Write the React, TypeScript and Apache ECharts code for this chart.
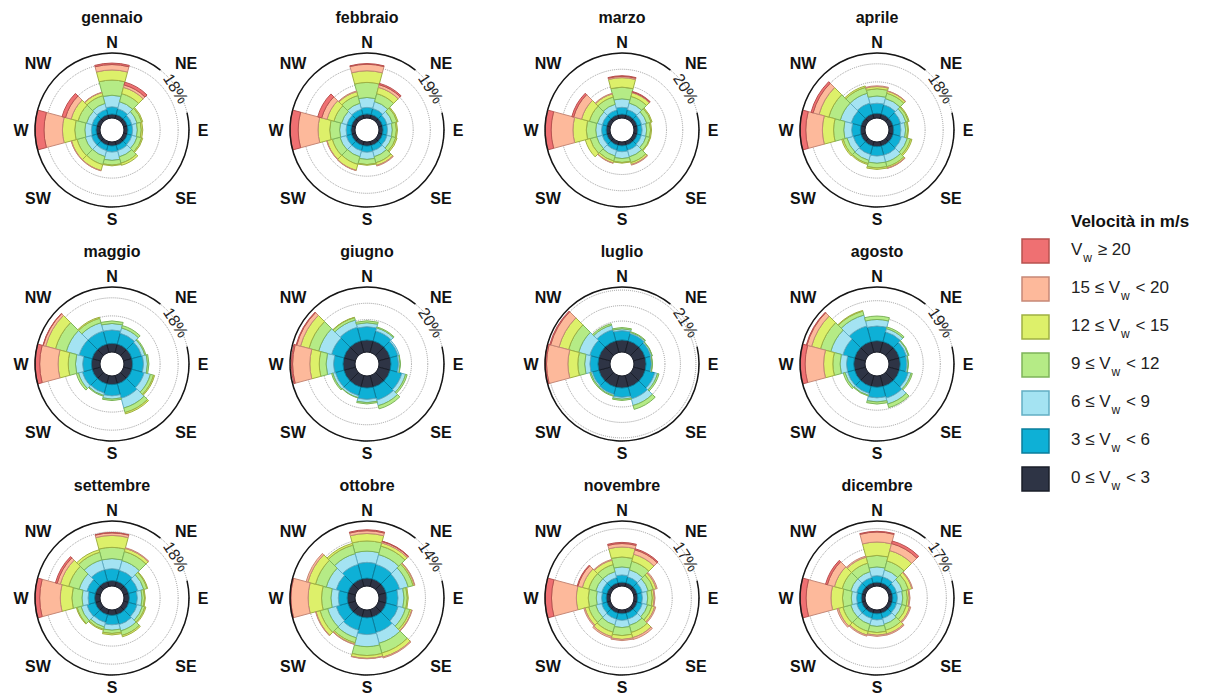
import React, { useEffect, useRef } from "react";
import * as echarts from "echarts";

// ---------------- DATA ----------------
const months = [
  "gennaio", "febbraio", "marzo", "aprile",
  "maggio", "giugno", "luglio", "agosto",
  "settembre", "ottobre", "novembre", "dicembre",
];
// 12 sectors of 30°, clockwise from North
const directions = ["0°", "30°", "60°", "90°", "120°", "150°", "180°", "210°", "240°", "270°", "300°", "330°"];
const maxima = [18, 19, 20, 18, 18, 20, 21, 19, 18, 14, 17, 17];
const gridStep = 5;
const speedClasses = ["0 ≤ Vw < 3", "3 ≤ Vw < 6", "6 ≤ Vw < 9", "9 ≤ Vw < 12", "12 ≤ Vw < 15", "15 ≤ Vw < 20", "Vw ≥ 20"];
const compassLabels = ["N", "NE", "E", "SE", "S", "SW", "W", "NW"];

// frequencies (%) per direction (rows) and speed class (columns, low -> high)
const gennaio = [
  [1.1, 2.0, 3.2, 4.2, 2.8, 1.5, 0.4],
  [1.1, 1.7, 2.0, 2.3, 1.8, 0.7, 0.8],
  [1.1, 1.3, 1.5, 1.3, 0.3, 0, 0],
  [1.1, 1.3, 1.3, 1.1, 0.4, 0, 0],
  [1.1, 1.3, 1.5, 1.3, 0.3, 0, 0],
  [1.1, 1.5, 1.8, 1.8, 0.6, 0, 0],
  [1.1, 1.7, 2.3, 1.3, 0.2, 0, 0],
  [1.1, 1.5, 1.7, 2.3, 1.7, 0.1, 0],
  [1.1, 1.5, 1.8, 2.3, 1.6, 0.1, 0],
  [1.1, 1.3, 1.8, 2.8, 3.4, 5.1, 2.5],
  [1.1, 1.3, 1.6, 2.4, 2.0, 1.6, 1.0],
  [1.1, 1.5, 1.7, 2.2, 0.9, 0.1, 0],
];
const febbraio = [
  [1.2, 1.9, 2.9, 4.4, 3.4, 1.9, 0.2],
  [1.2, 1.8, 2.1, 2.4, 1.9, 0.8, 0.4],
  [1.2, 1.4, 1.6, 1.4, 0.3, 0, 0],
  [1.2, 1.3, 1.4, 1.2, 0.3, 0, 0],
  [1.2, 1.4, 1.4, 1.2, 0.4, 0, 0],
  [1.2, 1.6, 1.8, 1.8, 0.8, 0.2, 0],
  [1.2, 1.8, 2.1, 1.5, 0.2, 0, 0],
  [1.2, 1.6, 1.8, 2.3, 1.8, 0.1, 0],
  [1.2, 1.6, 1.9, 2.3, 1.6, 0.1, 0],
  [1.2, 1.4, 1.9, 2.9, 3.4, 5.8, 2.4],
  [1.2, 1.4, 1.6, 2.3, 2.1, 1.6, 1.2],
  [1.2, 1.6, 1.8, 2.3, 1.2, 0.2, 0],
];
const marzo = [
  [1.2, 2.1, 2.6, 3.6, 2.9, 0.4, 0.2],
  [1.2, 1.6, 2.1, 2.1, 1.2, 0.2, 0.2],
  [1.2, 1.4, 1.6, 1.4, 0.3, 0, 0],
  [1.2, 1.3, 1.4, 1.2, 0.3, 0, 0],
  [1.2, 1.3, 1.5, 1.2, 0.2, 0, 0],
  [1.2, 1.6, 2.1, 1.8, 0.6, 0.2, 0],
  [1.2, 1.8, 2.1, 1.2, 0.2, 0, 0],
  [1.2, 1.6, 1.8, 1.6, 0.6, 0.1, 0],
  [1.2, 1.4, 1.8, 2.1, 1.5, 0, 0],
  [1.2, 1.4, 1.8, 2.9, 4.1, 6.7, 1.8],
  [1.2, 1.4, 1.6, 2.5, 2.5, 2.5, 0.6],
  [1.2, 1.5, 1.8, 2.3, 1.0, 0.2, 0],
];
const aprile = [
  [1.3, 2.8, 2.0, 2.0, 0.6, 0.2, 0],
  [1.3, 2.6, 1.8, 1.5, 0.6, 0.1, 0],
  [1.3, 2.2, 1.5, 0.7, 0.2, 0, 0],
  [1.3, 2.0, 1.3, 0.6, 0.2, 0, 0],
  [1.3, 2.4, 1.7, 0.9, 0.4, 0, 0],
  [1.3, 2.6, 2.0, 1.3, 0.4, 0.1, 0],
  [1.3, 2.6, 2.0, 1.3, 0.4, 0, 0],
  [1.3, 2.4, 1.7, 0.9, 0.3, 0, 0],
  [1.3, 2.2, 1.8, 1.1, 0.4, 0, 0],
  [1.3, 2.4, 2.2, 2.8, 3.1, 4.6, 1.6],
  [1.3, 2.8, 3.1, 3.3, 2.8, 1.7, 0.6],
  [1.3, 3.1, 2.8, 1.7, 0.4, 0, 0],
];
const maggio = [
  [2.4, 3.7, 1.8, 0.7, 0, 0, 0],
  [2.4, 3.1, 1.5, 0.7, 0, 0, 0],
  [2.4, 2.8, 0.9, 0.3, 0, 0, 0],
  [2.4, 3.0, 1.1, 0.4, 0, 0, 0],
  [2.4, 3.5, 1.8, 0.9, 0.3, 0, 0],
  [2.4, 4.1, 2.8, 1.3, 0.4, 0, 0],
  [2.4, 3.1, 0.9, 0.4, 0, 0, 0],
  [2.4, 2.6, 0.7, 0.2, 0, 0, 0],
  [2.4, 2.8, 1.1, 0.6, 0, 0, 0],
  [2.4, 2.4, 2.0, 2.0, 2.8, 5.1, 1.3],
  [2.4, 3.7, 3.7, 3.1, 2.8, 0.7, 0.1],
  [2.4, 3.7, 2.4, 1.3, 0.3, 0, 0],
];
const giugno = [
  [3.7, 4.1, 1.2, 0.6, 0, 0, 0],
  [3.7, 3.1, 1.0, 0.3, 0, 0, 0],
  [3.7, 2.5, 0.4, 0, 0, 0, 0],
  [3.7, 2.3, 0.5, 0.1, 0, 0, 0],
  [3.7, 3.7, 1.2, 0.5, 0, 0, 0],
  [3.7, 4.1, 1.8, 1.0, 0, 0, 0],
  [3.7, 3.5, 1.0, 0.4, 0, 0, 0],
  [3.7, 2.7, 0.6, 0.1, 0, 0, 0],
  [3.7, 2.7, 0.8, 0.4, 0, 0, 0],
  [3.7, 2.9, 2.3, 2.1, 2.9, 5.3, 0.4],
  [3.7, 3.9, 4.1, 3.1, 2.7, 1.2, 0.2],
  [3.7, 4.3, 2.3, 0.8, 0.1, 0, 0],
];
const luglio = [
  [3.9, 3.0, 0.6, 0.4, 0, 0, 0],
  [3.9, 2.4, 0.4, 0.2, 0, 0, 0],
  [3.9, 1.9, 0.4, 0.1, 0, 0, 0],
  [3.9, 1.7, 0.3, 0.1, 0, 0, 0],
  [3.9, 3.2, 0.9, 0.5, 0, 0, 0],
  [3.9, 3.9, 2.2, 1.3, 0, 0, 0],
  [3.9, 3.0, 0.6, 0.4, 0, 0, 0],
  [3.9, 2.4, 0.4, 0.2, 0, 0, 0],
  [3.9, 2.2, 0.5, 0.3, 0, 0, 0],
  [3.9, 2.6, 1.7, 2.2, 3.2, 6.9, 0.5],
  [3.9, 3.0, 3.7, 3.4, 3.2, 2.8, 0.3],
  [3.9, 3.7, 1.5, 0.5, 0, 0, 0],
];
const agosto = [
  [3.3, 4.3, 1.9, 1.0, 0, 0, 0],
  [3.3, 2.9, 1.0, 0.5, 0, 0, 0],
  [3.3, 2.1, 0.6, 0.2, 0, 0, 0],
  [3.3, 1.9, 0.4, 0.1, 0, 0, 0],
  [3.3, 2.7, 0.8, 0.4, 0, 0, 0],
  [3.3, 3.5, 1.8, 1.1, 0, 0, 0],
  [3.3, 3.1, 1.2, 0.6, 0, 0, 0],
  [3.3, 2.1, 0.6, 0.2, 0, 0, 0],
  [3.3, 2.1, 0.8, 0.5, 0, 0, 0],
  [3.3, 2.1, 1.9, 2.1, 2.7, 5.4, 1.4],
  [3.3, 3.5, 3.7, 3.1, 2.7, 1.4, 0.2],
  [3.3, 4.7, 3.3, 1.2, 0.2, 0, 0],
];
const settembre = [
  [1.5, 3.3, 2.8, 3.1, 3.3, 0.7, 0.1],
  [1.5, 3.1, 2.8, 2.6, 0.9, 0.2, 0],
  [1.5, 2.6, 1.7, 0.9, 0.2, 0, 0],
  [1.5, 2.2, 1.3, 0.7, 0.2, 0, 0],
  [1.5, 2.4, 1.5, 0.7, 0.3, 0, 0],
  [1.5, 2.8, 1.8, 1.3, 0.4, 0, 0],
  [1.5, 2.6, 1.5, 0.9, 0.4, 0, 0],
  [1.5, 2.2, 1.3, 0.7, 0.2, 0, 0],
  [1.5, 2.4, 1.7, 1.1, 0.2, 0, 0],
  [1.5, 1.8, 1.7, 2.8, 3.2, 5.7, 1.3],
  [1.5, 2.4, 2.2, 3.0, 2.4, 0.9, 0.5],
  [1.5, 3.3, 2.8, 2.2, 0.7, 0, 0],
];
const ottobre = [
  [1.7, 3.4, 2.4, 2.2, 1.6, 0.6, 0.2],
  [1.7, 3.2, 2.2, 1.9, 0.7, 0.3, 0.1],
  [1.7, 3.0, 1.9, 1.1, 0.3, 0.1, 0],
  [1.7, 2.4, 1.3, 0.7, 0.2, 0, 0],
  [1.7, 2.7, 1.6, 1.0, 0.4, 0.1, 0],
  [1.7, 3.4, 2.4, 2.2, 0.9, 0.2, 0],
  [1.7, 3.6, 2.6, 1.9, 0.6, 0.1, 0],
  [1.7, 2.9, 1.7, 1.1, 0.3, 0.1, 0],
  [1.7, 2.6, 1.9, 1.7, 0.9, 0.1, 0],
  [1.7, 1.9, 1.6, 2.0, 2.9, 3.7, 0.2],
  [1.7, 2.6, 2.2, 2.4, 1.7, 0.4, 0],
  [1.7, 3.2, 2.4, 1.9, 0.4, 0, 0],
];
const novembre = [
  [1.0, 1.9, 2.1, 2.6, 2.6, 0.9, 0.3],
  [1.0, 1.6, 1.9, 2.3, 1.9, 1.2, 0.3],
  [1.0, 1.4, 1.6, 1.4, 0.7, 0.3, 0],
  [1.0, 1.2, 1.4, 1.2, 0.5, 0.2, 0],
  [1.0, 1.4, 1.4, 1.2, 0.7, 0.3, 0],
  [1.0, 1.6, 1.7, 1.9, 1.4, 0.5, 0],
  [1.0, 1.7, 1.9, 2.1, 1.0, 0.3, 0],
  [1.0, 1.6, 1.6, 1.9, 1.2, 0.4, 0],
  [1.0, 1.4, 1.6, 1.9, 1.0, 0.3, 0],
  [1.0, 1.2, 1.4, 2.1, 3.1, 6.5, 1.7],
  [1.0, 1.4, 1.6, 1.9, 1.7, 1.2, 0.2],
  [1.0, 1.4, 1.6, 1.9, 1.2, 0.2, 0],
];
const dicembre = [
  [1.0, 1.7, 2.3, 3.0, 3.5, 2.6, 0.2],
  [1.0, 1.6, 1.9, 2.4, 2.8, 1.9, 0.7],
  [1.0, 1.2, 1.6, 1.6, 0.9, 0.2, 0],
  [1.0, 1.2, 1.4, 1.2, 0.5, 0.2, 0],
  [1.0, 1.2, 1.4, 1.2, 0.9, 0.3, 0],
  [1.0, 1.4, 1.6, 1.6, 1.0, 0.3, 0],
  [1.0, 1.6, 1.7, 1.6, 0.7, 0.3, 0],
  [1.0, 1.4, 1.6, 1.9, 1.0, 0.3, 0],
  [1.0, 1.4, 1.6, 2.1, 1.2, 0.4, 0],
  [1.0, 1.2, 1.4, 2.3, 3.0, 6.5, 1.7],
  [1.0, 1.4, 1.6, 2.3, 2.1, 1.9, 0.5],
  [1.0, 1.4, 1.6, 2.3, 1.6, 0.3, 0],
];
const monthData = [gennaio, febbraio, marzo, aprile, maggio, giugno, luglio, agosto, settembre, ottobre, novembre, dicembre];

// legend texts, top to bottom (high -> low): prefix + "V" + sub "w" + suffix
const legendTitle = "Velocità in m/s";
const legendPre = ["", "15 ≤ ", "12 ≤ ", "9 ≤ ", "6 ≤ ", "3 ≤ ", "0 ≤ "];
const legendPost = [" ≥ 20", " < 20", " < 15", " < 12", " < 9", " < 6", " < 3"];

// ---------------- STYLE / LAYOUT ----------------
const FONT = '"Liberation Sans", Arial, Helvetica, sans-serif';
const classFill = ["#2E3445", "#0EB0D6", "#A4E3F2", "#B5EB86", "#DDF06A", "#FDB99B", "#EF7072"];
const classBorder = ["#1A1E29", "#0A7E9C", "#62AEC4", "#7DB45A", "#9FB043", "#C68877", "#B8514F"];
const COLS = [112, 367, 622, 877];
const ROWS = [130, 364, 598];
const R_IN = 12;
const R_OUT = 77;
const labelOffsets: Record<string, [number, number]> = {
  N: [0, -88], NE: [74, -67], E: [91, 0], SE: [74, 68],
  S: [0, 89], SW: [-74, 68], W: [-91, 0], NW: [-74, -67],
};
const deg = Math.PI / 180;

function buildOption() {
  const polar: any[] = [];
  const angleAxis: any[] = [];
  const radiusAxis: any[] = [];
  const series: any[] = [];
  const elements: any[] = [];

  monthData.forEach((rows, m) => {
    const cx = COLS[m % 4];
    const cy = ROWS[Math.floor(m / 4)];
    polar.push({ center: [cx, cy], radius: [R_IN, R_OUT] });
    angleAxis.push({
      polarIndex: m, type: "category", data: directions, startAngle: 105, clockwise: true,
      boundaryGap: true,
      axisLine: { show: false }, axisTick: { show: false }, axisLabel: { show: false },
      splitLine: { show: false },
    });
    radiusAxis.push({
      polarIndex: m, type: "value", min: 0, max: maxima[m], interval: gridStep,
      axisLine: { show: false }, axisTick: { show: false }, axisLabel: { show: false },
      splitLine: {
        show: true, showMinLine: false, showMaxLine: false,
        lineStyle: { type: "dotted", color: "#9c9c9c", width: 1 },
      },
    });
    speedClasses.forEach((name, k) => {
      series.push({
        type: "bar", coordinateSystem: "polar", polarIndex: m, stack: "rose" + m, name,
        barCategoryGap: "0%", silent: true,
        data: rows.map((r) => (r[k] > 0 ? r[k] : null)),
        itemStyle: { color: classFill[k], borderColor: classBorder[k], borderWidth: 1 },
      });
    });

    // title
    elements.push({
      type: "text", x: cx, y: cy - 113,
      style: { text: months[m], font: `bold 16px ${FONT}`, fill: "#111", textAlign: "center", textVerticalAlign: "middle" },
    });
    // compass labels
    compassLabels.forEach((lab) => {
      const [dx, dy] = labelOffsets[lab];
      elements.push({
        type: "text", x: cx + dx, y: cy + dy,
        style: { text: lab, font: `bold 16px ${FONT}`, fill: "#111", textAlign: "center", textVerticalAlign: "middle" },
      });
    });
    // outer circle with gap for max label (compass 39° .. 77°)
    elements.push({
      type: "arc", z: 100,
      shape: { cx, cy, r: R_OUT, startAngle: (77 - 90) * deg, endAngle: (399 - 90) * deg, clockwise: true },
      style: { stroke: "#161616", lineWidth: 1.5, fill: null },
    });
    const a = 57;
    elements.push({
      type: "text", x: cx + 76 * Math.sin(a * deg), y: cy - 76 * Math.cos(a * deg), rotation: -a * deg,
      style: { text: maxima[m] + "%", font: `16px ${FONT}`, fill: "#222", textAlign: "center", textVerticalAlign: "middle" },
    });
  });

  // legend
  elements.push({
    type: "text", x: 1071, y: 221,
    style: { text: legendTitle, font: `bold 17px ${FONT}`, fill: "#111", textAlign: "left", textVerticalAlign: "middle" },
  });
  for (let i = 0; i < 7; i++) {
    const k = 6 - i;
    const yc = 251 + i * 38;
    elements.push({
      type: "rect", shape: { x: 1022, y: yc - 12, width: 27, height: 24 },
      style: { fill: classFill[k], stroke: classBorder[k], lineWidth: 1.5 },
    });
    elements.push({
      type: "text", x: 1071, y: yc - 10,
      style: {
        text: `{a|${legendPre[i]}V}{b|w}{a|${legendPost[i]}}`,
        textAlign: "left", textVerticalAlign: "top",
        rich: {
          a: { fontSize: 17, fontFamily: FONT, fill: "#222", lineHeight: 20, verticalAlign: "top" },
          b: { fontSize: 12, fontFamily: FONT, fill: "#222", lineHeight: 14, padding: [11, 1, 0, 1], verticalAlign: "top" },
        },
      },
    });
  }

  return {
    animation: false,
    backgroundColor: "#ffffff",
    polar, angleAxis, radiusAxis, series,
    graphic: { elements },
  };
}

export default function App() {
  const ref = useRef<HTMLDivElement>(null);
  useEffect(() => {
    if (!ref.current) return;
    const chart = echarts.init(ref.current, undefined, { renderer: "svg" });
    chart.setOption(buildOption() as any);
    return () => chart.dispose();
  }, []);
  return (
    <div
      ref={ref}
      style={{ position: "fixed", left: 0, top: 0, width: 1220, height: 698, background: "#fff" }}
    />
  );
}
